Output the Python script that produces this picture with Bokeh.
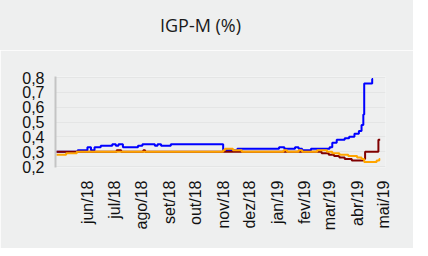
from datetime import datetime
from math import pi
from bokeh.plotting import figure
from bokeh.layouts import column
from bokeh.models import FixedTicker, CustomJSTickFormatter, Range1d, Div
from bokeh.embed import file_html
from bokeh.resources import INLINE

# ---- data (step breakpoints) ----
blue_dates = ["2018-04-27", "2018-05-21", "2018-06-01", "2018-06-05", "2018-06-09", "2018-06-16",
              "2018-06-29", "2018-07-03", "2018-07-06", "2018-07-11", "2018-07-28", "2018-08-02",
              "2018-08-16", "2018-08-19", "2018-08-23", "2018-09-03", "2018-11-01", "2018-11-17",
              "2019-01-03", "2019-01-09", "2019-01-21", "2019-01-25", "2019-01-29", "2019-02-08",
              "2019-03-01", "2019-03-04", "2019-03-09", "2019-03-18", "2019-03-23", "2019-03-29",
              "2019-04-03", "2019-04-06", "2019-04-08", "2019-04-09", "2019-04-18", "2019-04-19"]
blue_vals = [0.30, 0.31, 0.33, 0.31, 0.33, 0.34,
             0.35, 0.34, 0.35, 0.33, 0.34, 0.35,
             0.34, 0.35, 0.34, 0.35, 0.31, 0.32,
             0.33, 0.32, 0.33, 0.32, 0.31, 0.32,
             0.33, 0.36, 0.38, 0.39, 0.40, 0.42,
             0.44, 0.48, 0.55, 0.76, 0.79, 0.79]

red_dates = ["2018-04-27", "2018-07-04", "2018-07-09", "2018-08-03", "2018-08-05",
             "2019-02-20", "2019-02-28", "2019-03-06", "2019-03-12", "2019-03-18",
             "2019-03-26", "2019-04-08", "2019-04-10", "2019-04-25", "2019-04-27"]
red_vals = [0.30, 0.31, 0.30, 0.31, 0.30,
            0.29, 0.28, 0.27, 0.26, 0.25,
            0.24, 0.25, 0.30, 0.38, 0.38]

orange_dates = ["2018-04-27", "2018-05-08", "2018-05-20", "2018-11-01", "2018-11-03",
                "2018-11-12", "2018-11-22", "2019-01-08", "2019-01-12", "2019-01-25",
                "2019-01-29", "2019-02-15", "2019-02-26", "2019-03-04", "2019-03-12",
                "2019-03-22", "2019-04-01", "2019-04-06", "2019-04-09", "2019-04-23",
                "2019-04-26", "2019-04-27"]
orange_vals = [0.28, 0.29, 0.30, 0.31, 0.32,
               0.31, 0.30, 0.31, 0.30, 0.31,
               0.30, 0.31, 0.30, 0.29, 0.28,
               0.27, 0.26, 0.25, 0.23, 0.24,
               0.25, 0.25]

month_ticks = ["2018-06-01", "2018-07-01", "2018-08-01", "2018-09-01", "2018-10-01", "2018-11-01",
               "2018-12-01", "2019-01-01", "2019-02-01", "2019-03-01", "2019-04-01", "2019-05-01"]
month_labels = ["jun/18", "jul/18", "ago/18", "set/18", "out/18", "nov/18",
                "dez/18", "jan/19", "fev/19", "mar/19", "abr/19", "mai/19"]
y_ticks = [0.2, 0.3, 0.4, 0.5, 0.6, 0.7, 0.8]
title_text = "IGP-M (%)"

def d(s):
    return datetime.strptime(s, "%Y-%m-%d")

def ms(s):
    return (d(s) - datetime(1970, 1, 1)).total_seconds() * 1000.0

BG = "#eeefef"
Y0, Y1 = 0.1933, 0.8068

title = Div(text=title_text, width=413, height=50, margin=(0, 0, 0, 0),
            styles={"background-color": BG, "font-family": "Open Sans", "font-size": "18px",
                    "text-align": "center", "line-height": "50px", "color": "#1a1a1a",
                    "padding-right": "12px", "box-sizing": "border-box"})

p = figure(width=413, height=198, x_axis_type="datetime", output_backend="svg",
           toolbar_location=None,
           x_range=Range1d(ms("2018-04-26"), ms("2019-05-03")),
           y_range=Range1d(Y0, Y1),
           min_border_left=55, min_border_right=28, min_border_top=26, min_border_bottom=81)

p.background_fill_color = BG
p.border_fill_color = BG
p.outline_line_color = None

p.step([d(s) for s in blue_dates], blue_vals, mode="after", line_color="#0000ff", line_width=2)
p.step([d(s) for s in red_dates], red_vals, mode="after", line_color="#800000", line_width=2)
p.step([d(s) for s in orange_dates], orange_vals, mode="after", line_color="#ffa500", line_width=2)

tick_ms = [ms(s) for s in month_ticks]
p.xaxis.ticker = FixedTicker(ticks=tick_ms)
p.xaxis.major_label_overrides = {t: lab for t, lab in zip(tick_ms, month_labels)}
p.xaxis.major_label_orientation = pi / 2
p.xaxis.axis_line_color = None
p.xaxis.major_tick_line_color = None
p.xaxis.minor_tick_line_color = None
p.xaxis.major_label_standoff = 7

p.yaxis.ticker = FixedTicker(ticks=y_ticks)
p.yaxis.formatter = CustomJSTickFormatter(code="return tick.toFixed(1).replace('.', ',');")
p.yaxis.axis_line_color = "#c4c4c4"
p.yaxis.axis_line_width = 2
p.yaxis.major_tick_line_color = None
p.yaxis.minor_tick_line_color = None
p.yaxis.major_label_standoff = 5

for ax in (p.xaxis, p.yaxis):
    ax.major_label_text_font = "Liberation Sans"
    ax.major_label_text_font_size = "16px"
    ax.major_label_text_color = "#111111"

p.xgrid.grid_line_color = None
p.ygrid.grid_line_color = "#e4e5e5"
p.ygrid.ticker = FixedTicker(ticks=y_ticks)

layout = column(title, p, spacing=0)
open("out.html", "w").write(file_html(layout, INLINE))
